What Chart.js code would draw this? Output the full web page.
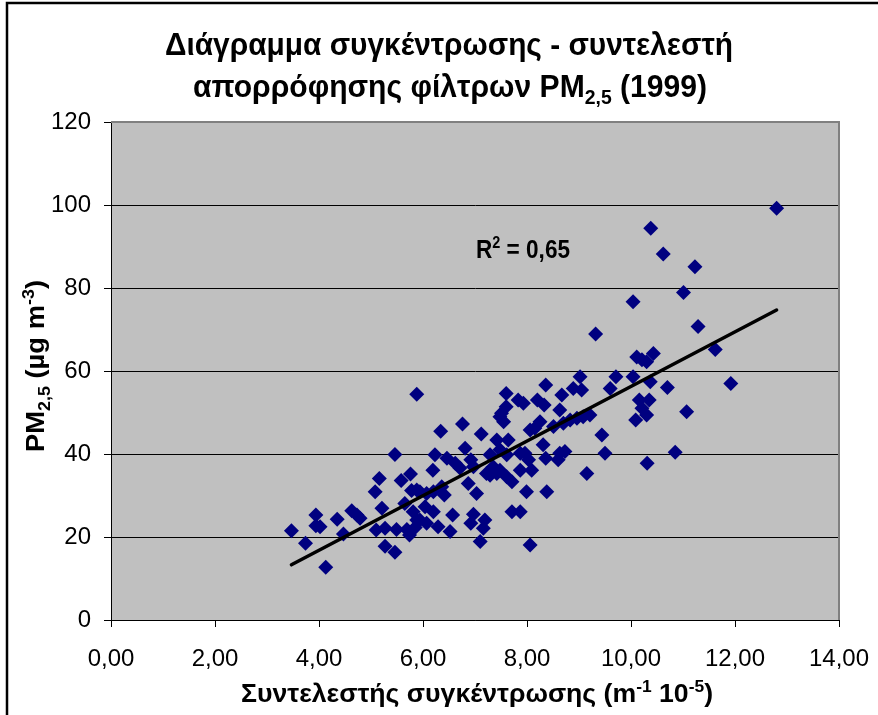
<!DOCTYPE html>
<html>
<head>
<meta charset="utf-8">
<script src="https://cdn.jsdelivr.net/npm/chart.js@4/dist/chart.umd.min.js"></script>
<style>
  html, body { margin: 0; padding: 0; background: #fff; }
  canvas { display: block; }
</style>
</head>
<body>
<canvas id="pmChart" width="878" height="715"></canvas>
<script>
// συντελεστής (m^-1 10^-5) και PM2,5 (µg m^-3), 1999
const absorption = [
  3.47, 3.74, 3.94, 3.94, 4.02, 4.13, 4.35, 4.47, 4.63, 4.73, 4.79,
  5.08, 5.16, 5.21, 5.10, 5.27, 5.27, 5.46, 5.46, 5.58, 5.76, 5.78,
  5.65, 5.49, 5.69, 5.74, 5.81, 5.88, 5.85, 5.88, 5.88,
  6.34, 6.76, 7.12, 6.81, 6.23, 6.46, 6.62, 6.71, 6.92, 6.19, 5.94,
  6.07, 6.20, 6.36, 6.41, 6.87, 7.03, 6.04, 6.20, 5.94, 6.07, 6.29,
  6.52, 6.57, 6.97, 6.92, 7.19, 7.16, 7.10, 6.97, 7.22, 7.35, 7.42,
  7.60, 7.51, 7.60, 7.55, 7.83, 7.93, 8.20, 8.33, 8.36, 8.25, 8.15,
  7.42, 7.64, 7.29, 7.48, 7.61, 7.48, 7.29, 7.61, 7.71, 7.87, 7.96,
  8.03, 7.99, 8.09, 8.31, 8.36, 8.38, 7.71, 7.87, 8.06, 7.87, 7.48, 8.06,
  8.67, 8.89, 9.05, 9.02, 8.63, 8.63, 8.73, 8.60, 9.15, 8.51, 8.70,
  8.83, 8.96, 9.08, 9.21, 9.32, 9.44, 9.50, 9.71, 9.60,
  10.11, 10.30, 10.43, 10.21, 10.04, 10.37, 10.70, 10.16, 10.35, 10.21,
  10.30, 10.09, 11.07, 10.85, 10.31, 11.29, 12.80, 10.38, 10.62, 11.23,
  11.01, 10.04, 11.62, 11.92
];
const pm25 = [
  21.5, 18.5, 25.3, 22.7, 22.5, 12.7, 24.3, 20.7, 26.3, 25.3, 24.5,
  30.9, 34.1, 26.9, 21.7, 22.1, 17.8, 16.3, 39.9, 33.6, 35.2, 31.2,
  28.1, 21.8, 21.8, 20.5, 26.1, 24.1, 22.3, 54.4, 31.3,
  45.5, 47.2, 44.8, 41.4, 39.8, 39.0, 37.8, 36.6, 38.6, 36.1, 30.9,
  30.5, 30.9, 32.1, 30.1, 32.9, 30.5, 27.3, 26.1, 24.1, 23.3, 22.5,
  21.3, 25.3, 25.5, 23.3, 24.1, 22.1, 18.9, 36.9, 35.3, 36.9, 35.3,
  54.6, 49.8, 51.4, 47.8, 53.0, 52.2, 53.0, 51.8, 56.6, 47.8, 46.2,
  43.4, 43.4, 39.8, 41.0, 39.8, 36.1, 34.9, 34.5, 33.3, 36.1, 40.2,
  38.6, 30.9, 36.1, 42.2, 39.0, 30.9, 26.1, 26.1, 18.1, 40.2, 49.0, 45.8,
  54.2, 55.8, 55.4, 58.6, 50.6, 40.2, 40.6, 38.6, 35.3, 46.6, 47.4,
  48.2, 48.6, 49.0, 49.4, 68.9, 44.6, 40.2, 58.6, 55.8,
  63.4, 62.2, 64.2, 62.7, 58.6, 57.4, 56.0, 53.0, 53.0, 51.0,
  49.4, 48.2, 50.2, 40.4, 37.8, 70.7, 99.2, 94.4, 88.2, 85.1,
  78.9, 76.7, 65.2, 57.0
];

// γραμμή τάσης (άκρα)
const trendX = [3.47, 12.8];
const trendY = [13.3, 74.7];
const rSquared = "0,65";

const FONT = '"Liberation Sans", Arial, sans-serif';

// κείμενο με δείκτες/εκθέτες, στενεμένο ώστε να πιάνει το δοσμένο πλάτος
function richText(ctx, parts, x, y, size, width, align) {
  const small = Math.round(size * 0.64);
  const pieces = parts.map(([t, kind]) => {
    const fs = kind ? small : size;
    ctx.font = "bold " + fs + "px " + FONT;
    return { t, kind, fs, w: ctx.measureText(t).width };
  });
  const total = pieces.reduce((s, p) => s + p.w, 0);
  const sx = width ? width / total : 1;
  ctx.save();
  ctx.translate(x, y);
  ctx.scale(sx, 1);
  ctx.fillStyle = "#000";
  ctx.textAlign = "left";
  ctx.textBaseline = "alphabetic";
  let cx = align === "left" ? 0 : -total / 2;
  for (const p of pieces) {
    ctx.font = "bold " + p.fs + "px " + FONT;
    const dy = p.kind === "sub" ? size * 0.24 : p.kind === "sup" ? -size * 0.4 : 0;
    ctx.fillText(p.t, cx, dy);
    cx += p.w;
  }
  ctx.restore();
}

const plotBackground = {
  id: "plotBackground",
  beforeDraw(chart) {
    const { ctx, chartArea: a } = chart;
    ctx.save();
    ctx.fillStyle = "#fff";
    ctx.fillRect(0, 0, chart.width, chart.height);
    ctx.fillStyle = "#c0c0c0";
    ctx.fillRect(a.left, a.top, a.right - a.left, a.bottom - a.top);
    ctx.restore();
  },
  beforeDatasetsDraw(chart) {
    const { ctx, chartArea: a } = chart;
    ctx.save();
    ctx.strokeStyle = "#808080";
    ctx.lineWidth = 2;
    ctx.beginPath();
    ctx.moveTo(a.left, a.top);
    ctx.lineTo(a.right, a.top);
    ctx.lineTo(a.right, a.bottom);
    ctx.stroke();
    ctx.restore();
  }
};

const labels = {
  id: "labels",
  afterDraw(chart) {
    const ctx = chart.ctx;
    // πλαίσιο γραφήματος
    ctx.save();
    ctx.strokeStyle = "#000";
    ctx.lineWidth = 2.5;
    ctx.strokeRect(7, 3, 1000, 1000);
    ctx.restore();

    richText(ctx, [["Διάγραμμα συγκέντρωσης - συντελεστή"]], 449, 55, 31, 568);
    richText(ctx, [["απορρόφησης φίλτρων PM"], ["2,5", "sub"], [" (1999)"]], 450, 97, 31, 514);

    richText(ctx, [["Συντελεστής συγκέντρωσης (m"], ["-1", "sup"], [" 10"], ["-5", "sup"], [")"]],
      477, 702, 26, 472);

    ctx.save();
    ctx.translate(44, 366);
    ctx.rotate(-Math.PI / 2);
    richText(ctx, [["PM"], ["2,5", "sub"], [" (µg m"], ["-3", "sup"], [")"]], 0, 0, 26, 172);
    ctx.restore();

    richText(ctx, [["R"], ["2", "sup"], [" = " + rSquared]], 476, 258, 25, 94, "left");
  }
};

new Chart(document.getElementById("pmChart"), {
  type: "scatter",
  data: {
    datasets: [
      {
        type: "line",
        data: trendX.map((x, i) => ({ x, y: trendY[i] })),
        borderColor: "#000",
        borderWidth: 3.5,
        borderCapStyle: "round",
        pointRadius: 0,
        order: 0
      },
      {
        data: absorption.map((x, i) => ({ x, y: pm25[i] })),
        pointStyle: "rectRot",
        pointRadius: 7.5,
        backgroundColor: "#000080",
        borderColor: "#000080",
        borderWidth: 0,
        order: 1
      }
    ]
  },
  options: {
    responsive: false,
    animation: false,
    layout: { padding: { left: 0, top: 122, right: 39, bottom: 0 } },
    plugins: { legend: { display: false }, tooltip: { enabled: false } },
    scales: {
      x: {
        type: "linear",
        min: 0,
        max: 14,
        afterFit: s => {
          s.height = 95;
          s.paddingLeft = 0;
          s.paddingRight = 0;
        },
        ticks: {
          stepSize: 2,
          padding: 18,
          color: "#000",
          font: { family: FONT, size: 24 },
          callback: v => v.toFixed(2).replace(".", ",")
        },
        grid: { drawOnChartArea: false, drawTicks: true, tickLength: 7, color: "#000" },
        border: { color: "#000", width: 1 }
      },
      y: {
        min: 0,
        max: 120,
        afterFit: s => { s.width = 111; },
        ticks: {
          stepSize: 20,
          padding: 13,
          color: "#000",
          font: { family: FONT, size: 24 }
        },
        grid: { color: "#000", lineWidth: 1, tickLength: 7 },
        border: { color: "#000", width: 1 }
      }
    }
  },
  plugins: [plotBackground, labels]
});
</script>
</body>
</html>
